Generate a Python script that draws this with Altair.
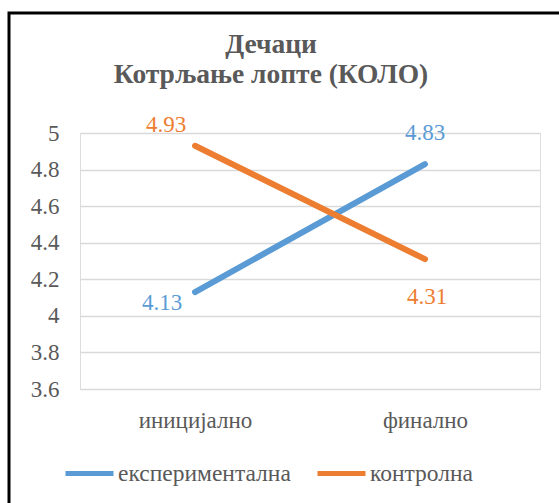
import altair as alt
import pandas as pd

categories = ["иницијално", "финално"]
series_names = ["експериментална", "контролна"]
exp_values = [4.13, 4.83]
ctrl_values = [4.93, 4.31]
y_ticks = [3.6, 3.8, 4.0, 4.2, 4.4, 4.6, 4.8, 5.0]
colors = ["#5B9BD5", "#ED7D31"]
title_lines = ["Дечаци", "Котрљање лопте (КОЛО)"]

rows = []
for c, v in zip(categories, exp_values):
    rows.append({"phase": c, "group": series_names[0], "value": v})
for c, v in zip(categories, ctrl_values):
    rows.append({"phase": c, "group": series_names[1], "value": v})
df = pd.DataFrame(rows)

FONT = "Liberation Serif"
GRAY = "#595959"
FS = 23

x = alt.X("phase:N", sort=categories, title=None,
          scale=alt.Scale(paddingInner=0, paddingOuter=0),
          axis=alt.Axis(labelAngle=0, labelFont=FONT, labelFontSize=FS, labelColor=GRAY,
                        labelPadding=20, domain=False, ticks=False, grid=False))
y = alt.Y("value:Q", title=None,
          scale=alt.Scale(domain=[3.6, 5.0], nice=False, zero=False),
          axis=alt.Axis(values=y_ticks, labelFont=FONT, labelFontSize=FS, labelColor=GRAY,
                        labelPadding=21, domain=False, ticks=False, grid=True,
                        gridColor="#D9D9D9", gridWidth=1.3, labelOverlap=False,
                        labelExpr="format(datum.value, '.1~f')"))
color = alt.Color("group:N", sort=series_names,
                  scale=alt.Scale(domain=series_names, range=colors),
                  legend=alt.Legend(orient="none", legendX=-17, legendY=314, direction="horizontal",
                                    title=None, symbolType="stroke", symbolSize=2304,
                                    symbolStrokeWidth=5, labelFont=FONT, labelFontSize=23.5,
                                    labelColor=GRAY, columnPadding=16, labelOffset=2,
                                    labelLimit=400))

base = alt.Chart(df)

frame = alt.Chart(pd.DataFrame({"k": [0]})).mark_rect(
    fill=None, stroke="black", strokeWidth=3
).encode(x=alt.value(-71), x2=alt.value(600), y=alt.value(-120), y2=alt.value(500))

title_df = pd.DataFrame({"t": title_lines, "i": [0, 1]})
title1 = alt.Chart(title_df).transform_filter(alt.datum.i == 0).mark_text(
    font=FONT, fontSize=27.5, fontWeight="bold", color=GRAY, baseline="alphabetic", align="center"
).encode(x=alt.value(191), y=alt.value(-80), text="t:N")
title2 = alt.Chart(title_df).transform_filter(alt.datum.i == 1).mark_text(
    font=FONT, fontSize=27.5, fontWeight="bold", color=GRAY, baseline="alphabetic", align="center"
).encode(x=alt.value(191), y=alt.value(-50), text="t:N")

lines = base.mark_line(strokeWidth=6, strokeCap="round").encode(x=x, y=y, color=color)

def label(group, phase, dx, dy, col):
    return base.transform_filter(
        (alt.datum.group == group) & (alt.datum.phase == phase)
    ).mark_text(font=FONT, fontSize=FS, color=col, dx=dx, dy=dy).encode(
        x=x, y=y, text=alt.Text("value:Q", format=".2f"))

labels = [
    label(series_names[0], categories[0], -33, 11, colors[0]),
    label(series_names[0], categories[1], 0, -31, colors[0]),
    label(series_names[1], categories[0], -29, -21, colors[1]),
    label(series_names[1], categories[1], 2, 38, colors[1]),
]

chart = alt.layer(frame, title1, title2, lines, *labels).properties(
    width=460, height=256,
    autosize=alt.AutoSizeParams(type="none"),
    padding={"left": 80, "top": 133, "right": 19, "bottom": 114},
).configure_view(stroke=None).configure(background="white")

chart.save("out.html", embed_options={"renderer": "svg", "actions": False})
